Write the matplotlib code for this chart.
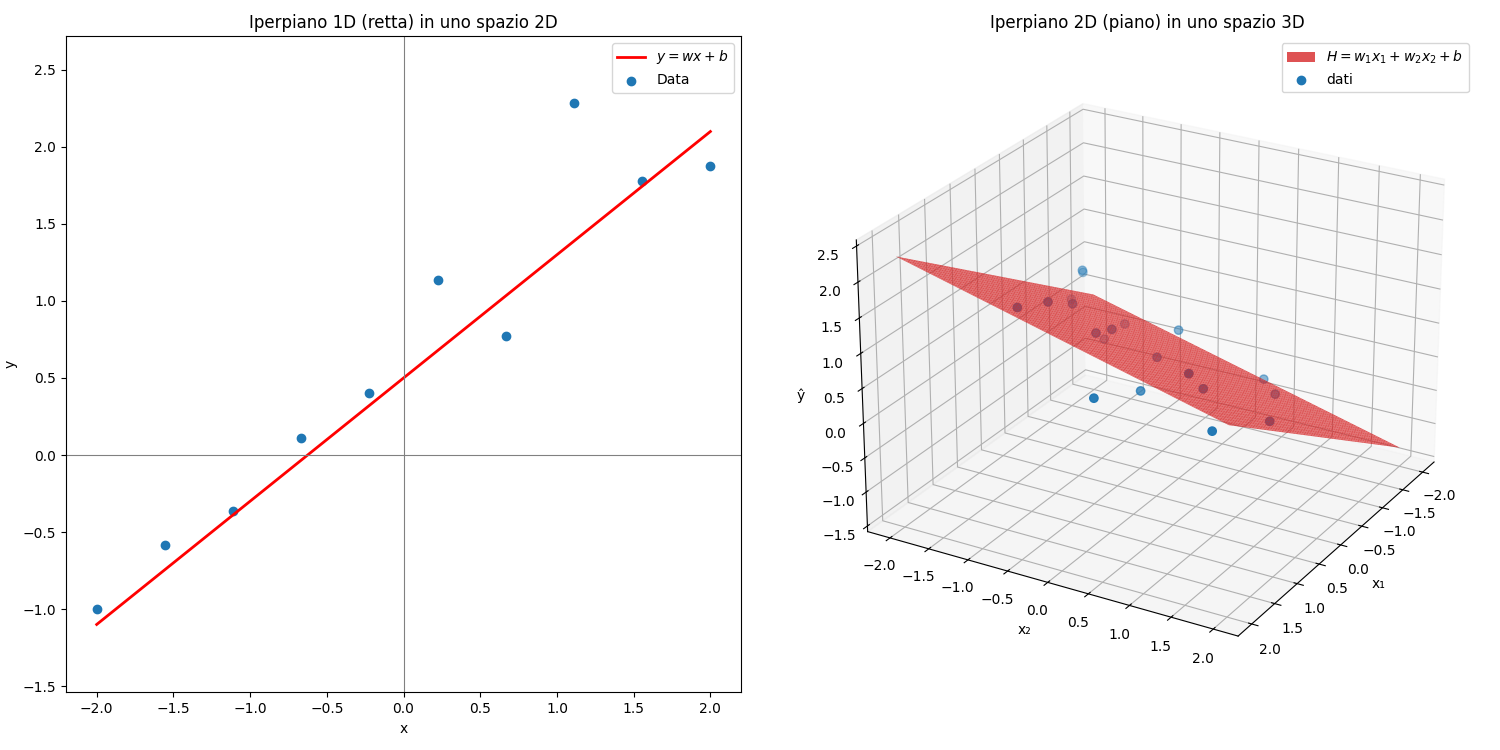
import numpy as np
import matplotlib
matplotlib.use('Agg')
import matplotlib.pyplot as plt

# --- 1D hyperplane (line) in 2D ---
x_data = np.linspace(-2, 2, 10)
y_data = [-1.0, -0.584, -0.364, 0.110, 0.403, 1.136, 0.773, 2.286, 1.779, 1.877]
w, b = 0.8, 0.5

# --- 2D hyperplane (plane) in 3D ---
w1, w2, b3 = 0.6, -0.3, 0.5
x1_pts = [-0.94, -1.28, 1.03, 0.57, -1.30, -0.10, 0.17, -1.09, 0.00, -1.19,
          -1.05, -0.31, 0.61, 0.24, -1.34, -0.88, 0.18, 1.07, 0.22, 0.65]
x2_pts = [-1.50, -1.70, -1.12, -1.02, -1.87, -1.12, -0.66, -1.31, -0.56, -1.10,
          -0.32, -0.17, 0.75, 0.72, 0.61, 1.00, 1.50, -0.15, -0.07, 1.06]
y_pts = [0.89, 0.65, 1.37, 1.26, 0.19, 0.89, 0.72, -0.16, 0.72, 0.08,
         0.27, 0.27, 0.75, 0.34, -0.34, -0.22, 0.07, 0.37, 0.07, 0.04]

fig = plt.figure(figsize=(15, 7.5))
fig.subplots_adjust(left=0.044, right=0.99, top=0.952, bottom=0.077, wspace=0.102)

ax = fig.add_subplot(1, 2, 1)
ax.plot(x_data, w * x_data + b, color='red', lw=2, label='$y = wx + b$')
ax.scatter(x_data, y_data, label='Data')
ax.axhline(0, color='gray', lw=0.8)
ax.axvline(0, color='gray', lw=0.8)
ax.set_ylim(-1.54, 2.72)
ax.set_xlabel('x')
ax.set_ylabel('y')
ax.set_title('Iperpiano 1D (retta) in uno spazio 2D')
ax.legend(loc='upper right')

ax3 = fig.add_subplot(1, 2, 2, projection='3d', computed_zorder=False)
g = np.linspace(-2, 2, 100)
X1, X2 = np.meshgrid(g, g)
H = w1 * X1 + w2 * X2 + b3
ax3.plot_surface(X1, X2, H, color='tab:red', alpha=0.8, shade=False, zorder=2,
                 label='$H = w_1x_1 + w_2x_2 + b$')
ax3.scatter(x1_pts, x2_pts, y_pts, s=36, zorder=1, label='dati')
ax3.set_xlim(-2.2917, 2.2917)
ax3.set_ylim(-2.2917, 2.2917)
ax3.set_zlim(-1.5833, 2.5833)
ax3.view_init(elev=25, azim=30)
ax3.set_xlabel('x₁')
ax3.set_ylabel('x₂')
ax3.set_zlabel('ŷ')
ax3.set_title('Iperpiano 2D (piano) in uno spazio 3D')
ax3.legend(loc='upper right')

fig.savefig('out.png')
